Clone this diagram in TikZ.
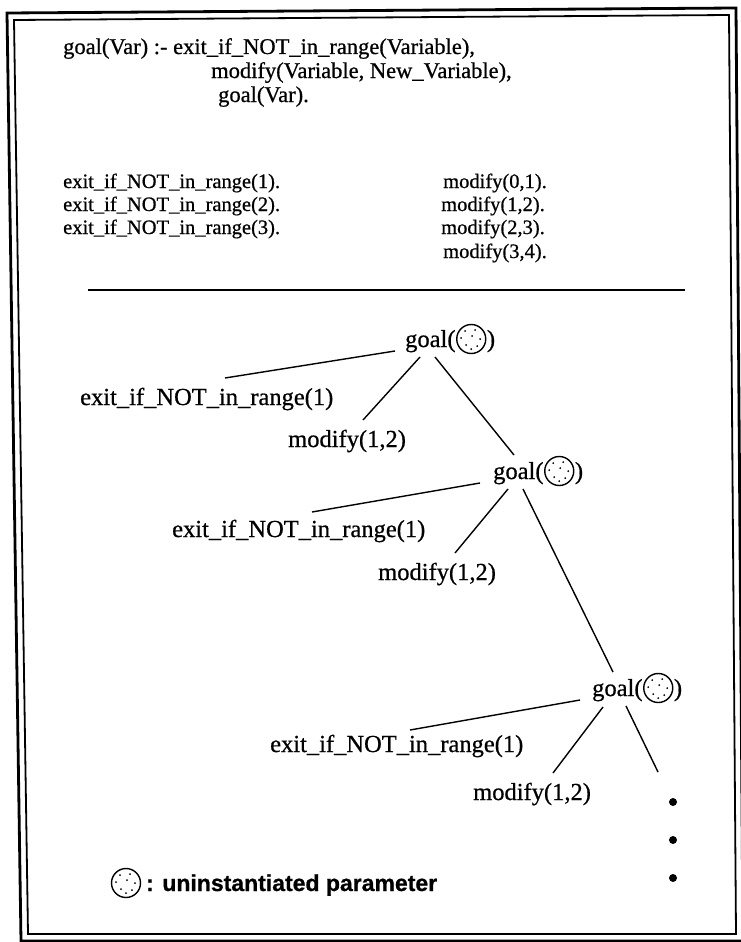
\documentclass[tikz,border=0pt]{standalone}
\usepackage{fontspec}
\setmainfont{Liberation Serif}[FakeBold=0.7]
\newfontfamily\legendfont{Liberation Sans}[BoldFeatures={FakeBold=0.8}]
\usetikzlibrary{calc}
\begin{document}
\begin{tikzpicture}[x=1pt,y=-1pt,
  clause/.style={anchor=base west,inner sep=0pt,font=\fontsize{22.5}{25}\selectfont},
  fact/.style={anchor=base west,inner sep=0pt,font=\fontsize{20.5}{23}\selectfont},
  lbl/.style={anchor=base west,inner sep=0pt,font=\fontsize{24.5}{27}\selectfont},
  legendtext/.style={anchor=base west,inner sep=0pt,font=\legendfont\bfseries\fontsize{23}{25}\selectfont},
  edge/.style={line width=1.4pt},
  param/.pic={
    \draw[line width=1.4pt] (0,0) circle (14.5pt);
    \foreach \a/\b in {-6/-8,4/-9,-10/-1,1/-3,9/0,-5/6,6/7,0/10}
      \fill (\a,\b) circle (1pt);
  }
]
\useasboundingbox (0,0) rectangle (741,942);

% double frame
\draw[line width=2.8pt] (7,13) -- (736,8) -- (743,941) -- (21,941) -- cycle;
\draw[line width=1.8pt] (14,20) -- (729,15) -- (736,934) -- (28,934) -- cycle;

% program text
\node[clause] (r1) at (63,54) {goal(Var) :- exit\_if\_NOT\_in\_range(Variable),};
\node[clause] (r2) at (211,78) {modify(Variable, New\_Variable),};
\node[clause] (r3) at (218,102) {goal(Var).};

\node[fact] (x1) at (63,188) {exit\_if\_NOT\_in\_range(1).};
\node[fact] (x2) at (63,211) {exit\_if\_NOT\_in\_range(2).};
\node[fact] (x3) at (63,234) {exit\_if\_NOT\_in\_range(3).};
\node[fact] (y0) at (443,188) {modify(0,1).};
\node[fact] (y1) at (441,211) {modify(1,2).};
\node[fact] (y2) at (441,234) {modify(2,3).};
\node[fact] (y3) at (443,258) {modify(3,4).};

% separator
\draw[line width=1.4pt] (88,290) -- (685,290);

% goal nodes: "goal(" + parameter circle + ")"
\node[lbl] (g1) at (405,347) {goal(};
\pic at ($(g1.base east)+(15.5,-8)$) {param};
\node[lbl] (p1) at ($(g1.base east)+(31,0)$) {)};

\node[lbl] (g2) at (493,479) {goal(};
\pic at ($(g2.base east)+(15.5,-8)$) {param};
\node[lbl] (p2) at ($(g2.base east)+(31,0)$) {)};

\node[lbl] (g3) at (592,696) {goal(};
\pic at ($(g3.base east)+(15.5,-8)$) {param};
\node[lbl] (p3) at ($(g3.base east)+(31,0)$) {)};

% subgoal labels
\node[lbl] (e1) at (80,405) {exit\_if\_NOT\_in\_range(1)};
\node[lbl] (m1) at (288,447) {modify(1,2)};
\node[lbl] (e2) at (172,537) {exit\_if\_NOT\_in\_range(1)};
\node[lbl] (m2) at (378,580) {modify(1,2)};
\node[lbl] (e3) at (270,752) {exit\_if\_NOT\_in\_range(1)};
\node[lbl] (m3) at (473,800) {modify(1,2)};

% branches
\draw[edge] ($(g1.base west)+(-10,4)$) -- ($(e1.base west)+(145,-27)$);
\draw[edge] ($(g1.base west)+(15,10)$) -- ($(m1.base west)+(75,-27)$);
\draw[edge] ($(g1.base west)+(30,10)$) -- ($(g2.base west)+(21,-24)$);

\draw[edge] ($(g2.base west)+(-13,4)$) -- ($(e2.base west)+(140,-25)$);
\draw[edge] ($(g2.base west)+(15,10)$) -- ($(m2.base west)+(77,-27)$);
\draw[edge] ($(g2.base west)+(30,10)$) -- ($(g3.base west)+(21,-24)$);

\coordinate (tail) at (658,772);
\draw[edge] ($(g3.base west)+(-12,4)$) -- ($(e3.base west)+(140,-22)$);
\draw[edge] ($(g3.base west)+(11,11)$) -- ($(m3.base west)+(80,-27)$);
\draw[edge] ($(g3.base west)+(34,10)$) -- (tail);

% continuation dots
\fill (673,802) circle (4pt);
\fill (673,840) circle (4pt);
\fill (673,878) circle (4pt);

% legend
\pic at (126,883) {param};
\node[legendtext] (leg) at (146,891) {: uninstantiated parameter};
\end{tikzpicture}
\end{document}
